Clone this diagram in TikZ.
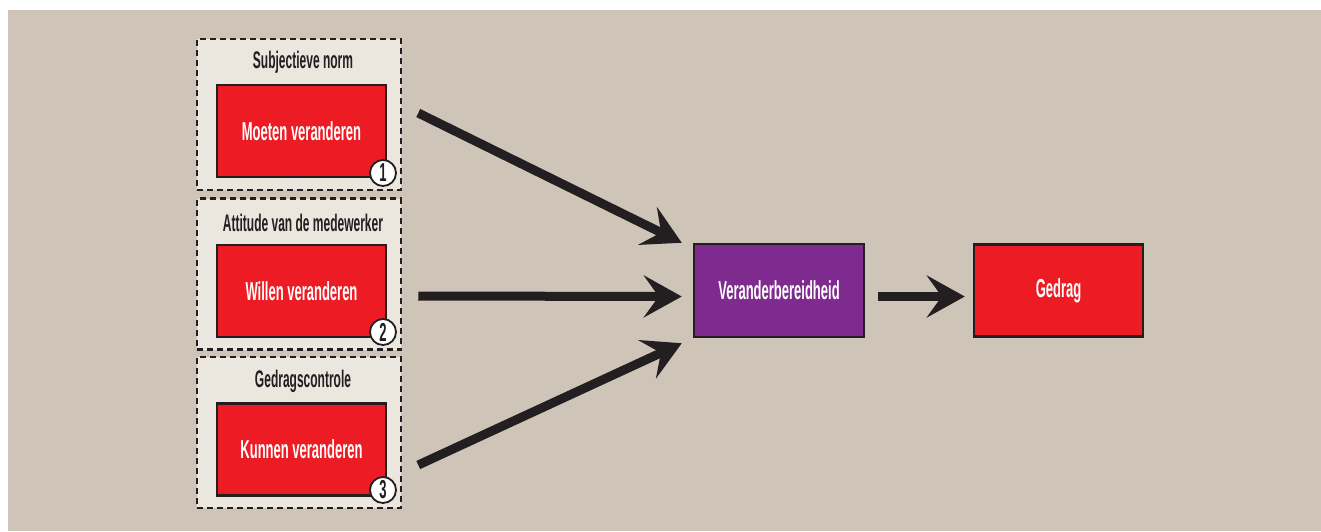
\documentclass[tikz,border=0pt]{standalone}
\usepackage{fontspec}
\setmainfont{Liberation Sans}
\newfontfamily\condfont[FakeStretch=0.5]{Liberation Sans}
\usepackage{tikz}
\usetikzlibrary{arrows.meta,positioning,calc}
\definecolor{bgbeige}   {HTML}{CFC4B8}
\definecolor{grpbeige}  {HTML}{EBE6DE}
\definecolor{boxred}    {HTML}{ED1C24}
\definecolor{boxpurple} {HTML}{7F2A8F}
\definecolor{inkdark}   {HTML}{231F20}
\begin{document}
\begin{tikzpicture}[
  grp/.style  ={draw=inkdark,fill=grpbeige,line width=2.5pt,dash pattern=on 6pt off 4pt,
                minimum width=204pt,minimum height=151pt,inner sep=0pt},
  box/.style  ={draw=inkdark,fill=boxred,line width=2.5pt,minimum width=169pt,
                minimum height=92pt,inner sep=0pt,text=white,
                font=\condfont\bfseries\fontsize{26}{28}\selectfont},
  vbox/.style ={box,fill=boxpurple,minimum width=170pt,minimum height=93pt},
  ttl/.style  ={text=inkdark,inner sep=0pt,font=\condfont\bfseries\fontsize{24}{26}\selectfont},
  num/.style  ={circle,draw=inkdark,fill=white,line width=1.8pt,minimum size=26pt,
                inner sep=0pt,text=inkdark,font=\condfont\bfseries\fontsize{26}{28}\selectfont},
  arr/.style  ={-{Stealth[length=38pt,width=42pt,inset=15pt]},line width=9pt,color=inkdark},
  x=1pt, y=-1pt
]
%% Background with white margin
\fill[white] (0,0) rectangle (1321,531);
\fill[bgbeige] (8,10) rectangle (1321,531);
\useasboundingbox (0,0) rectangle (1321,531);
%% Groups (left column)
\node[grp] (g1) at (299, 114.5) {};
\node[grp] (g2) at (299, 274)   {};
\node[grp] (g3) at (299, 432.5) {};
\node[ttl] (t1) at (303, 62)  {Subjectieve norm};
\node[ttl] (t2) at (303, 223) {Attitude van de medewerker};
\node[ttl] (t3) at (303, 381) {Gedragscontrole};
%% Red boxes
\node[box] (m1) at (301.5, 131)   {Moeten veranderen};
\node[box] (m2) at (301.5, 291)   {Willen veranderen};
\node[box] (m3) at (301.5, 449.5) {Kunnen veranderen};
%% Numbers
\node[num] (n1) at (383, 173) {1};
\node[num] (n2) at (383, 332) {2};
\node[num] (n3) at (383, 490) {3};
%% Right part
\node[vbox] (vb) at (779, 290.5)    {Veranderbereidheid};
\node[box]  (gd) at (1058.5, 290.5) {Gedrag};
%% Arrows
\draw[arr] ([shift={(31,-18)}]m1.east) -- ([shift={(-11,0)}]vb.north west);
\draw[arr] ([shift={(31,5)}]m2.east)   -- ([shift={(-11,6)}]vb.west);
\draw[arr] ([shift={(31,15.5)}]m3.east) -- ([shift={(-11,5)}]vb.south west);
\draw[arr] ([shift={(13,6)}]vb.east)   -- ([shift={(-8,6)}]gd.west);
\end{tikzpicture}
\end{document}
